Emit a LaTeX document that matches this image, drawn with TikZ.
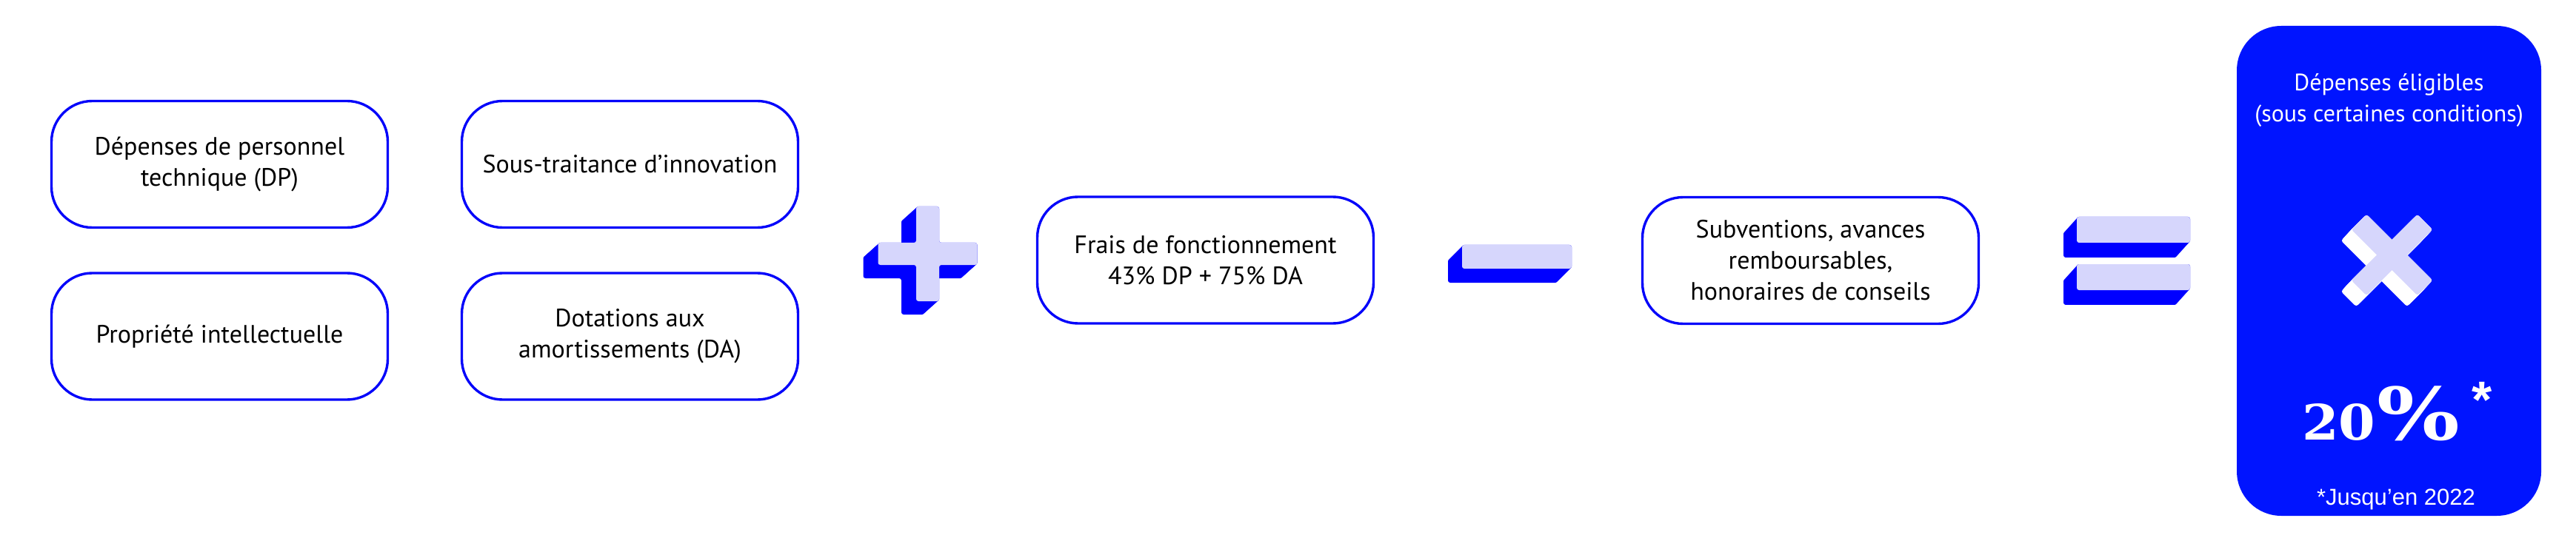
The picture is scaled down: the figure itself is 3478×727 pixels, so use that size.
\documentclass[tikz,border=0pt]{standalone}
\usepackage{fontspec}
\setmainfont{PT Sans}
\newfontfamily\arialfont{Liberation Sans}
\newfontfamily\slabfont{DejaVu Serif}
\definecolor{bordblue}{RGB}{5,5,250}
\definecolor{boxblue}{RGB}{0,20,255}
\definecolor{deepblue}{RGB}{0,0,255}
\definecolor{lav}{RGB}{214,214,252}
\tikzset{
  card/.style={draw=bordblue, line width=3.4pt, fill=white, rounded corners=55pt,
    minimum width=454pt, minimum height=171pt, align=center, inner sep=0pt,
    font=\fontsize{34}{42}\selectfont, text=black},
  wtext/.style={text=white, inner sep=0pt, font=\fontsize{32}{42}\selectfont},
  pics/plusface/.style={code={
    \path[pic actions, rounded corners=3pt] (-15.5,-64) -- (15.5,-64) -- (15.5,-15) -- (67,-15) -- (67,15)
      -- (15.5,15) -- (15.5,64) -- (-15.5,64) -- (-15.5,15) -- (-67,15) -- (-67,-15) -- (-15.5,-15) -- cycle;}},
  pics/minusface/.style={code={
    \path[pic actions, rounded corners=3pt] (-74,-16) rectangle (74,16);}},
  pics/eqface/.style={code={
    \path[pic actions, rounded corners=3pt] (-76.5,-49.5) rectangle (76.5,-14.5);
    \path[pic actions, rounded corners=3pt] (-76.5,14.5) rectangle (76.5,49.5);}},
  pics/xface/.style={code={
    \path[pic actions, rotate=45, rounded corners=3pt] (-63,-14.5) -- (63,-14.5) -- (63,14.5) -- (-63,14.5) -- cycle;
    \path[pic actions, rotate=-45, rounded corners=3pt] (-63,-14.5) -- (63,-14.5) -- (63,14.5) -- (-63,14.5) -- cycle;}},
}
\begin{document}
\begin{tikzpicture}[x=1pt,y=-1pt]
\useasboundingbox[fill=white] (0,0) rectangle (3478,727);

% left cards
\node[card] (dp) at (296.5,222) {Dépenses de personnel\\technique (DP)};
\node[card] (st) at (850.5,222) {Sous-traitance d’innovation};
\node[card] (pi) at (296.5,454.5) {Propriété intellectuelle};
\node[card] (da) at (850.5,454.5) {Dotations aux\\amortissements (DA)};

% plus sign
\foreach \k in {0,...,20} {\pic[fill=deepblue] at ({1252.5-\k},{343+0.9*\k}) {plusface};}
\pic[fill=lav] at (1252.5,343) {plusface};

\node[card] (ff) at (1627.5,351.5) {Frais de fonctionnement\\43\% DP + 75\% DA};

% minus sign
\foreach \k in {0,...,19} {\pic[fill=deepblue] at ({2048-\k},{347+\k}) {minusface};}
\pic[fill=lav] at (2048,347) {minusface};

\node[card] (sub) at (2444.5,352) {Subventions, avances\\remboursables,\\honoraires de conseils};

% equals sign
\foreach \k in {0,...,18} {\pic[fill=deepblue] at ({2880.5-\k},{342.5+1.11*\k}) {eqface};}
\pic[fill=lav] at (2880.5,342.5) {eqface};

% result box
\node[fill=boxblue, rounded corners=60pt, minimum width=411pt, minimum height=662pt, inner sep=0pt] (result) at (3225.5,366) {};
\node[wtext, anchor=base] (elig) at (3225.5,123) {Dépenses éligibles};
\node[wtext, anchor=base] (cond) at (3225.5,165) {(sous certaines conditions)};

\foreach \k in {0,...,14} {\pic[fill=white] at ({3229.5-\k},{344.5+1.07*\k}) {xface};}
\pic[fill=lav] at (3229.5,344.5) {xface};

\node[anchor=base west, inner sep=0pt, text=white] (rate) at (3108,594)
  {\slabfont\bfseries\scalebox{1.08}[1]{\fontsize{66}{66}\selectfont 20}\hspace{2pt}\scalebox{1.2}[1]{\fontsize{98}{98}\selectfont\%}\hspace{16pt}\raisebox{30pt}{\arialfont\bfseries\fontsize{70}{70}\selectfont *}};
\node[anchor=base, inner sep=0pt, text=white, font=\arialfont\fontsize{31}{36}\selectfont] (note) at (3235,682) {*Jusqu’en 2022};
\end{tikzpicture}
\end{document}
